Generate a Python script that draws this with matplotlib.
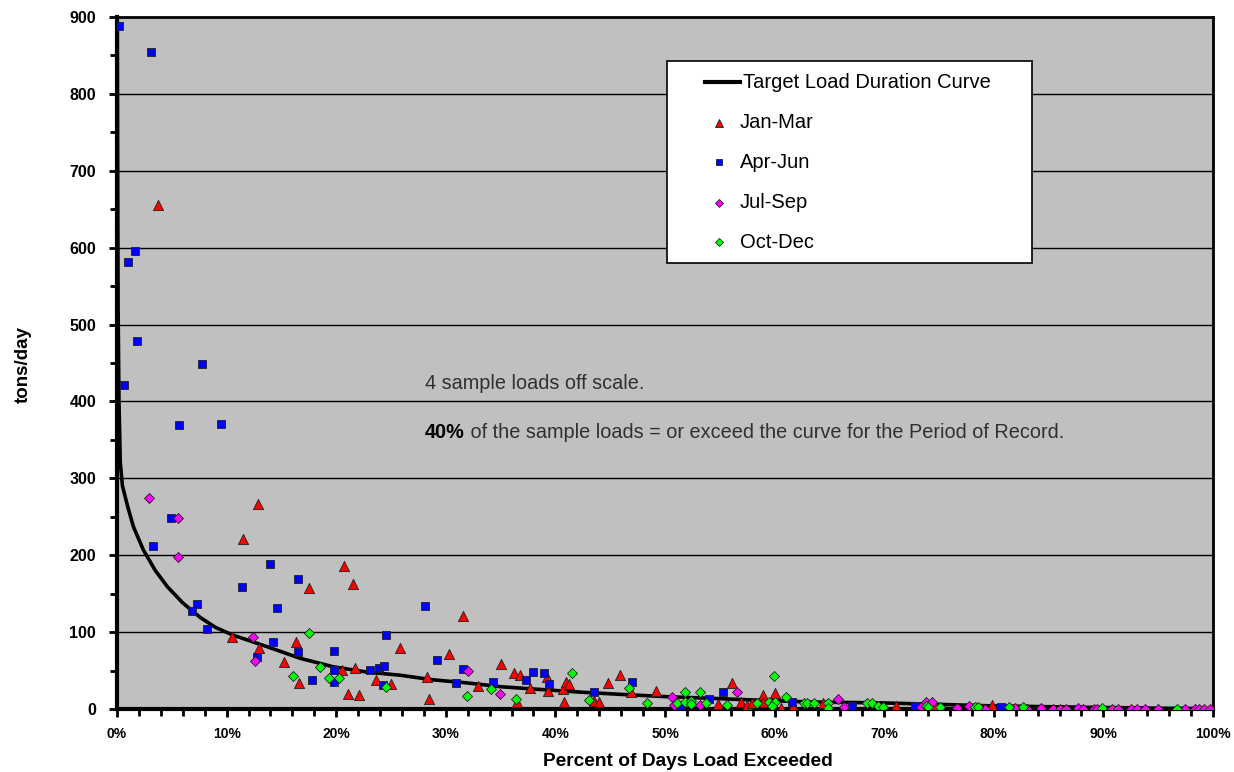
import matplotlib
matplotlib.use("Agg")
import matplotlib.pyplot as plt
from matplotlib.lines import Line2D
from matplotlib.patches import Rectangle
from matplotlib.ticker import MultipleLocator, FuncFormatter

# ---------------- data ----------------
curve_pct = [0.02, 0.06, 0.1, 0.18, 0.3, 0.5, 1.0, 1.5, 2.4, 3.5, 4.6, 6.0, 7.6, 9.0, 10.6,
             13.7, 16.7, 19.7, 22.8, 25.8, 28.8, 31.9, 35.0, 38.0, 42.2, 46.0, 50.2, 54.0,
             57.5, 63.5, 69.6, 75.0, 80.0, 85.0, 90.0, 95.0, 100.0]
curve_load = [920, 700, 520, 400, 320, 290, 262, 237, 207, 180, 159, 138, 119, 106, 96,
              81, 66, 55, 48, 44, 38, 34, 29, 26, 22, 19, 16, 14,
              12, 9, 8, 6, 4, 3, 2, 1, 0.5]

janmar_x = [3.7, 12.9, 11.5, 20.7, 17.5, 21.5, 31.6, 10.5, 16.3, 25.8, 13.0, 30.3, 15.2, 20.5,
            21.7, 35.0, 23.6, 25.0, 28.3, 16.6, 32.9, 21.1, 22.1, 28.5, 36.2, 36.8, 39.2, 37.7,
            39.3, 40.7, 41.0, 41.2, 36.5, 40.8, 43.5, 44.0, 44.8, 45.9, 46.9, 49.2, 54.8, 56.1,
            56.9, 57.5, 57.9, 58.9, 58.9, 60.0, 60.6, 61.7, 64.4, 71.1, 74.6, 79.8]
janmar_y = [656, 266, 221, 186, 158, 163, 121, 94, 87, 79, 79, 72, 61, 51,
            53, 58, 38, 32, 42, 34, 30, 19, 18, 13, 47, 44, 42, 27,
            23, 26, 35, 32, 9, 9, 10, 9, 34, 44, 22, 23, 6, 34,
            9, 5, 8, 18, 9, 21, 1, 4, 8, 4, 4, 5]

aprjun_x = [0.2, 3.1, 1.6, 1.0, 1.8, 7.8, 0.6, 5.7, 9.5, 4.9, 3.3, 14.0, 16.5, 11.4, 14.6,
            28.1, 7.3, 6.8, 8.2, 24.5, 14.2, 16.5, 19.8, 12.8, 29.2, 19.8, 23.1, 23.9, 24.4,
            31.6, 17.8, 19.8, 24.3, 30.9, 34.3, 38.0, 39.0, 37.3, 39.4, 43.5, 47.0, 51.4, 54.0,
            55.3, 61.6, 67.1, 72.8, 80.7]
aprjun_y = [888, 855, 596, 582, 479, 449, 421, 370, 371, 248, 212, 189, 169, 159, 132,
            134, 136, 128, 104, 96, 87, 74, 75, 68, 64, 51, 51, 53, 56,
            52, 38, 35, 31, 34, 35, 48, 47, 38, 32, 22, 35, 3, 13,
            22, 9, 4, 4, 3]

julsep_x = [2.9, 5.6, 5.6, 12.4, 12.6, 32.0, 34.9, 50.6, 50.8, 53.2, 56.6, 65.8, 66.3, 73.4,
            73.8, 74.4, 76.6, 77.7, 79.2, 81.9, 83.0, 84.3, 85.4, 86.0, 86.6, 87.7, 88.1, 89.1,
            89.4, 90.8, 91.3, 92.5, 93.1, 93.8, 95.0, 97.4, 98.4, 98.7, 99.2, 99.7]
julsep_y = [275, 248, 198, 94, 62, 49, 19, 16, 5, 5, 22, 13, 3, 3,
            9, 9, 1, 4, 0, 1, 0, 1, 0, 0, 0, 1, 0, 0,
            0, 0, 0, 0, 0, 0, 0, 0, 0, 0, 0, 0]

octdec_x = [17.5, 18.5, 16.1, 19.3, 20.3, 24.5, 34.1, 31.9, 41.5, 36.4, 43.1, 46.7, 48.4, 51.1,
            51.8, 51.8, 52.4, 52.4, 53.2, 53.7, 55.7, 58.4, 59.9, 59.5, 60.0, 59.8, 61.0, 62.7,
            63.0, 63.6, 64.9, 64.9, 68.4, 68.9, 69.4, 69.9, 73.8, 74.0, 75.1, 78.3, 78.6, 81.4,
            82.7, 89.9, 96.7]
octdec_y = [99, 55, 43, 40, 40, 29, 26, 17, 47, 13, 12, 27, 8, 8,
            22, 9, 10, 6, 22, 8, 5, 8, 43, 9, 9, 4, 16, 8,
            8, 8, 8, 1, 8, 8, 4, 3, 4, 3, 3, 3, 3, 3,
            3, 1, 0]

series_labels = ["Target Load Duration Curve", "Jan-Mar", "Apr-Jun", "Jul-Sep", "Oct-Dec"]
series_colors = ['black', '#FF0000', '#0000FF', '#FF00FF', '#00FF00']
series_markers = [None, '^', 's', 'D', 'D']

# ---------------- figure ----------------
plt.rcParams['font.family'] = ['Liberation Sans', 'DejaVu Sans']
W, H = 1234, 772
fig = plt.figure(figsize=(W / 100, H / 100), dpi=100)
L, R, T, B = 117, 1213, 17, 709
ax = fig.add_axes([L / W, 1 - B / H, (R - L) / W, (B - T) / H])
ax.set_facecolor('#C0C0C0')
ax.set_xlim(0, 100)
ax.set_ylim(0, 900)

for yv in range(100, 900, 100):
    ax.axhline(yv, color='black', lw=1.0, zorder=1)

ax.plot(curve_pct, curve_load, color='black', lw=2.6, zorder=3, solid_joinstyle='round')

mk = dict(linewidths=0.6, edgecolors='#202020', zorder=4)
ax.scatter(janmar_x, janmar_y, marker='^', s=54, c=series_colors[1], **mk)
ax.scatter(aprjun_x, aprjun_y, marker='s', s=40, c=series_colors[2], **mk)
ax.scatter(julsep_x, julsep_y, marker='D', s=26, c=series_colors[3], **mk)
ax.scatter(octdec_x, octdec_y, marker='D', s=26, c=series_colors[4], **mk)

# axes styling
for side in ['left', 'bottom', 'top', 'right']:
    ax.spines[side].set_color('black')
    ax.spines[side].set_linewidth(2.0)
ax.spines['left'].set_linewidth(3.0)
ax.spines['bottom'].set_linewidth(3.0)

ax.xaxis.set_major_locator(MultipleLocator(10))
ax.xaxis.set_minor_locator(MultipleLocator(2))
ax.yaxis.set_major_locator(MultipleLocator(100))
ax.yaxis.set_minor_locator(MultipleLocator(50))
ax.xaxis.set_major_formatter(FuncFormatter(lambda v, p: f"{int(round(v))}%"))
ax.tick_params(axis='both', which='major', length=6, width=2, direction='out', color='black')
ax.tick_params(axis='both', which='minor', length=5, width=2, direction='out', color='black')
ax.tick_params(axis='x', which='major', pad=7, labelsize=10)
ax.tick_params(axis='y', which='major', pad=9, labelsize=11.5)
for lab in ax.get_xticklabels() + ax.get_yticklabels():
    lab.set_fontweight('bold')

# axis titles placed at their pixel positions
fig.text(688 / W, 1 - 762 / H, "Percent of Days Load Exceeded", fontsize=13.8,
         fontweight='bold', ha='center', va='center')
fig.text(23 / W, 1 - 365 / H, "tons/day", fontsize=13.5, fontweight='bold',
         rotation=90, ha='center', va='center')

# annotations
txt_color = '#303030'
ax.text(0.281, 0.470, "4 sample loads off scale.", transform=ax.transAxes,
        fontsize=14.3, color=txt_color, ha='left', va='center')
t40 = ax.text(0.281, 0.399, "40%", transform=ax.transAxes, fontsize=14.3,
              fontweight='bold', color='black', ha='left', va='center')
ax.annotate(" of the sample loads = or exceed the curve for the Period of Record.",
            xy=(1, 0.5), xycoords=t40, fontsize=14.3, color=txt_color,
            ha='left', va='center')

# legend (drawn at the reference's pixel positions)
def fx(px):
    return px / W

def fy(py):
    return 1 - py / H

fig.patches.append(Rectangle((fx(667), fy(263)), fx(1032) - fx(667), fy(61) - fy(263),
                             transform=fig.transFigure, facecolor='white',
                             edgecolor='black', lw=1.2, zorder=6))
row_y = [82, 123, 162, 203, 242]
for i, (lab, col, m) in enumerate(zip(series_labels, series_colors, series_markers)):
    yy = fy(row_y[i])
    if m is None:
        fig.lines.append(Line2D([fx(705), fx(740)], [yy, yy], transform=fig.transFigure,
                                color='black', lw=3, zorder=7))
        tx = 743
    else:
        ms = {'^': 6, 's': 5, 'D': 4.5}[m]
        fig.lines.append(Line2D([fx(719)], [yy], transform=fig.transFigure, ls='none',
                                marker=m, ms=ms, mfc=col, mec='#202020', mew=0.6, zorder=7))
        tx = 740
    fig.text(fx(tx), yy, lab, fontsize=14.5, color='black', ha='left', va='center',
             zorder=8)

fig.savefig("out.png", dpi=100)
